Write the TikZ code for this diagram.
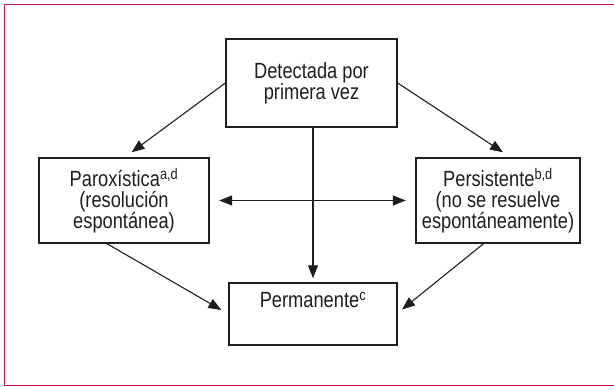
\documentclass[tikz,border=0pt]{standalone}
\usepackage{fontspec}
\setmainfont{Liberation Sans}[FakeStretch=0.83]
\usetikzlibrary{arrows.meta,calc}
\definecolor{framecol}{RGB}{198,22,78}
\definecolor{inkcol}{RGB}{30,30,30}
\begin{document}
\begin{tikzpicture}[x=1pt,y=-1pt,
  txt/.style={font=\fontsize{22}{21}\selectfont},
  box/.style={draw=inkcol,line width=1.4pt,inner sep=0pt,align=center,text=inkcol,txt},
  lbl/.style={inner sep=0pt,align=center,text=inkcol,txt},
  tip/.style={-{Triangle[length=13pt,width=10pt]}},
  arr/.style={draw=inkcol,line width=1.1pt,tip},
  darr/.style={draw=inkcol,line width=1.1pt,{Triangle[length=13pt,width=10pt]}-{Triangle[length=13pt,width=10pt]}}]
\useasboundingbox (0,0) rectangle (614,387);
\draw[framecol,line width=1.8pt] (620,4.5) -- (4.5,4.5) -- (4.5,385.5) -- (620,385.5);
\node[box,minimum width=171pt,minimum height=88pt] (top) at (311.5,83) {Detectada por\\primera vez};
\node[box,minimum width=170pt,minimum height=85pt] (left) at (124,200.5) {Paroxística\textsuperscript{a,d}\\(resolución\\espontánea)};
\node[box,minimum width=164pt,minimum height=85pt] (right) at (498,200.5) {Persistente\textsuperscript{b,d}\\(no se resuelve\\espontáneamente)};
\node[box,minimum width=168pt,minimum height=62pt] (bottom) at (313,314) {};
\node[lbl] (btext) at (313,300) {Permanente\textsuperscript{c}};
\draw[arr] (top.west) -- ([xshift=7.5pt,yshift=5pt]left.north);
\draw[arr] (top.east) -- ([xshift=5pt,yshift=5pt]right.north);
\draw[arr,shorten >=4pt] (top.south -| bottom.north) -- (bottom.north);
\draw[darr,shorten <=9.5pt,shorten >=9.5pt] (left.east) -- (right.west);
\draw[arr,shorten >=8pt] ([xshift=-17pt]left.south) -- (bottom.west);
\draw[arr,shorten >=5.5pt] ([xshift=-14.5pt]right.south) -- ([yshift=1pt]bottom.east);
\end{tikzpicture}
\end{document}
